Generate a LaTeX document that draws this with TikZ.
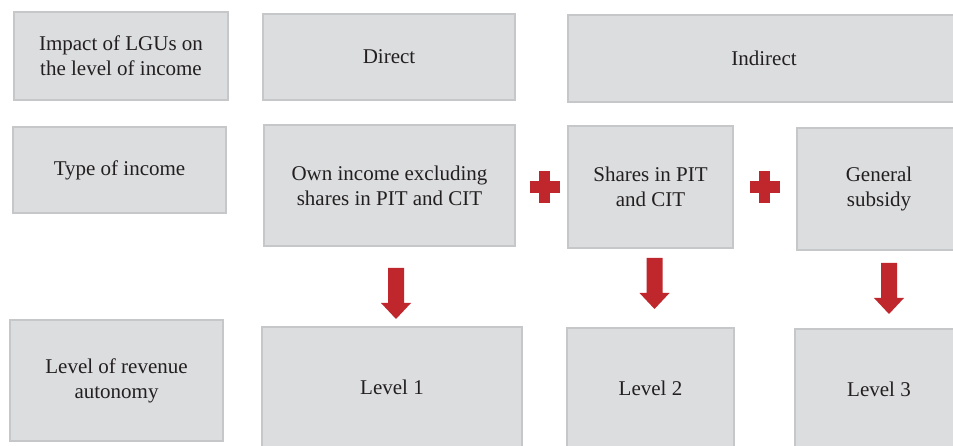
\documentclass[tikz,border=0pt]{standalone}
\usepackage{fontspec}
\setmainfont{Liberation Serif}
\definecolor{boxfill}{HTML}{DCDDDF}
\definecolor{boxline}{HTML}{C6C7C9}
\definecolor{redc}{HTML}{C0272D}
\definecolor{txt}{HTML}{231F20}
\tikzset{
  cell/.style={draw=boxline, line width=1.5pt, fill=boxfill, text=txt, align=center,
    inner sep=0pt, font=\fontsize{21}{25}\selectfont},
  downarrow/.pic={\fill[redc] (-8,0) -- (8,0) -- (8,35) -- (15,35) -- (0,51) -- (-15,35) -- (-8,35) -- cycle;},
  plussign/.pic={\fill[redc] (-5.5,-16) rectangle (5.5,16); \fill[redc] (-15,-6) rectangle (15,6);}
}
\begin{document}
\begin{tikzpicture}[x=1pt,y=-1pt]
\useasboundingbox (0,0) rectangle (953,446);
\clip (0,0) rectangle (953,446);
\fill[white] (0,0) rectangle (953,446);
% row 1
\node[cell, minimum width=214pt, minimum height=88pt] (impact) at (121,56) {Impact of LGUs on\\the level of income};
\node[cell, minimum width=252pt, minimum height=86pt] (direct) at (389,57) {Direct};
\node[cell, minimum width=392pt, minimum height=87pt] (indirect) at (764,58.5) {Indirect};
% row 2
\node[cell, minimum width=213pt, minimum height=86pt] (type) at (119.5,170) {Type of income};
\node[cell, minimum width=251pt, minimum height=121pt] (own) at (389.5,185.5) {Own income excluding\\shares in PIT and CIT};
\node[cell, minimum width=165pt, minimum height=122pt] (shares) at (650.5,187) {Shares in PIT\\and CIT};
\node[cell, minimum width=164pt, minimum height=122pt] (general) at (879,189) {General\\subsidy};
% row 3
\node[cell, minimum width=213pt, minimum height=121pt] (autonomy) at (116.5,380.5) {Level of revenue\\autonomy};
\node[cell, minimum width=260pt, minimum height=120pt] (lvl1) at (392,387) {Level 1};
\node[cell, minimum width=167pt, minimum height=120pt] (lvl2) at (650.5,388) {Level 2};
\node[cell, minimum width=168pt, minimum height=120pt] (lvl3) at (879,389) {Level 3};
% plus signs
\pic at (544.5,187) {plussign};
\pic at (764.5,187) {plussign};
% arrows
\pic at (396,268) {downarrow};
\pic at (654.5,258) {downarrow};
\pic at (889,263) {downarrow};
\end{tikzpicture}
\end{document}
